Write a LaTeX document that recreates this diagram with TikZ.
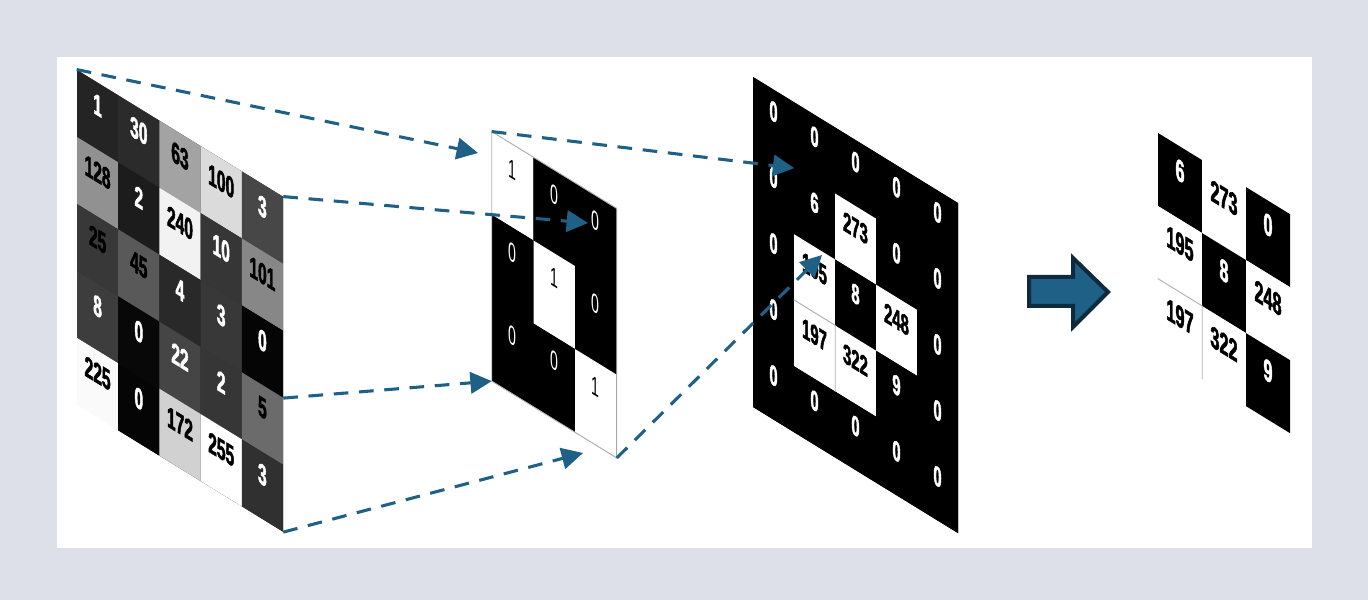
\documentclass[tikz,border=0pt]{standalone}
\usepackage{fontspec}
\newfontfamily\cellfont[FakeStretch=0.53, BoldFeatures={FakeBold=1.5}]{Liberation Sans}
\usetikzlibrary{arrows.meta}
\definecolor{framegray}{RGB}{221,224,232}
\definecolor{linkblue}{RGB}{31,96,135}
\definecolor{arrowedge}{RGB}{14,42,60}
\tikzset{x=0.75pt, y=0.75pt, % one unit is one pixel of the sketch
link/.style={linkblue, line width=2.3pt, dash pattern=on 11pt off 8pt, -{Triangle[length=16pt,width=16pt]}}, % the dashed connectors
cell/.style={rectangle, inner sep=0pt, transform shape, draw=none}, % one square of a grid, follows the slant
seam/.style={gray!60, line width=0.7pt}, % thin lines between white squares
}

\begin{document}
\begin{tikzpicture}[
	incell/.style={cell, minimum width=30.9pt, minimum height=50.25pt, font=\cellfont\bfseries\fontsize{22}{22}\selectfont, text height=15.8pt, text depth=17pt},
	kcell/.style={cell, minimum width=31.1pt, minimum height=62.25pt, font=\cellfont\fontsize{20}{20}\selectfont, text height=14.3pt, text depth=26pt},
	pcell/.style={cell, minimum width=30.75pt, minimum height=49.5pt, font=\cellfont\bfseries\fontsize{21}{21}\selectfont, text height=15pt, text depth=17pt},
	rcell/.style={cell, minimum width=33pt, minimum height=54.75pt, font=\cellfont\bfseries\fontsize{23}{23}\selectfont, text height=16.5pt, text depth=19pt}]
\fill[framegray] (0,0) rectangle (1368,600);
\fill[white] (57,52) rectangle (1312,543);
\useasboundingbox (0,0) rectangle (1368,600);

% input image
\begin{scope}[shift={(77,530)}, yslant=-0.615]
\fill[black!85] (0,0) rectangle (206,-268) (41.2,-268) rectangle (206,-335);
\foreach \v/\g/\t [count=\i from 0] in {1/14/white, 30/17/white, 63/64/black, 100/86/black, 3/28/white,
	128/57/black, 2/11/white, 240/95/black, 10/21/white, 101/53/black,
	25/22/black, 45/35/black, 4/16/white, 3/22/white, 0/2/white,
	8/24/white, 0/3/white, 22/27/white, 2/21/white, 5/42/black,
	225/98/black, 0/2/white, 172/82/black, 255/100/black, 3/19/white}{
	\pgfmathtruncatemacro\rw{\i/5}
	\pgfmathtruncatemacro\cl{\i-5*\rw}
	\node[incell, fill=white!\g!black, text=\t] (in-\rw-\cl) at ({41.2*(\cl+0.5)},{-67*(\rw+0.5)}) {\v};
}
\end{scope}

% kernel
\begin{scope}[shift={(492,468)}, yslant=-0.615]
\fill[black] (0,0) rectangle (124.5,-249);
\foreach \v/\g/\t [count=\i from 0] in {1/100/black, 0/0/white, 0/0/white,
	0/0/white, 1/100/black, 0/0/white,
	0/0/white, 0/0/white, 1/100/black}{
	\pgfmathtruncatemacro\rw{\i/3}
	\pgfmathtruncatemacro\cl{\i-3*\rw}
	\node[kcell, fill=white!\g!black, text=\t] (k-\rw-\cl) at ({41.5*(\cl+0.5)},{-83*(\rw+0.5)}) {\v};
}
\end{scope}
\draw[seam] (k-0-0.north west) -- (k-0-2.north east) -- (k-2-2.south east) -- (k-2-0.south west) -- cycle;

% padded result
\begin{scope}[shift={(753,523)}, yslant=-0.615]
\fill[black] (0,0) rectangle (205,-330);
\foreach \v/\g/\t [count=\i from 0] in {0/0/white, 0/0/white, 0/0/white, 0/0/white, 0/0/white,
	0/0/white, 6/0/white, 273/100/black, 0/0/white, 0/0/white,
	0/0/white, 195/100/black, 8/0/white, 248/100/black, 0/0/white,
	0/0/white, 197/100/black, 322/100/black, 9/0/white, 0/0/white,
	0/0/white, 0/0/white, 0/0/white, 0/0/white, 0/0/white}{
	\pgfmathtruncatemacro\rw{\i/5}
	\pgfmathtruncatemacro\cl{\i-5*\rw}
	\node[pcell, fill=white!\g!black, text=\t] (pd-\rw-\cl) at ({41*(\cl+0.5)},{-66*(\rw+0.5)}) {\v};
}
\end{scope}
\draw[seam] (pd-3-1.north west) -- (pd-3-1.north east) -- (pd-3-1.south east);

% feature map
\begin{scope}[shift={(1158,467)}, yslant=-0.615]
\foreach \v/\g/\t [count=\i from 0] in {6/0/white, 273/100/black, 0/0/white,
	195/100/black, 8/0/white, 248/100/black,
	197/100/black, 322/100/black, 9/0/white}{
	\pgfmathtruncatemacro\rw{\i/3}
	\pgfmathtruncatemacro\cl{\i-3*\rw}
	\node[rcell, fill=white!\g!black, text=\t] (rs-\rw-\cl) at ({44*(\cl+0.5)},{-73*(\rw+0.5)}) {\v};
}
\end{scope}
\draw[seam] (rs-2-0.north west) -- (rs-2-0.north east) -- (rs-2-0.south east);

\coordinate (tipA) at (478,447);
\coordinate (tipB) at (588,377);
\coordinate (tipD) at (583,147);
\coordinate (tipF) at (822,345);
\draw[link] (in-0-0.north west) -- (tipA);
\draw[link] (in-0-4.north east) -- (tipB);
\draw[link] (in-2-4.south east) -- (k-2-0.south west);
\draw[link] (in-4-4.south east) -- (tipD);
\draw[link] (k-0-0.north west) -- (pd-1-0.north east);
\draw[link] (k-2-2.south east) -- (tipF);

% big arrow
\draw[line width=3pt, draw=arrowedge, fill=linkblue, line join=miter] (1029,323) -- (1073,323) -- (1073,342) -- (1108,308) -- (1073,273) -- (1073,294) -- (1029,294) -- cycle;
\end{tikzpicture}
\end{document}
